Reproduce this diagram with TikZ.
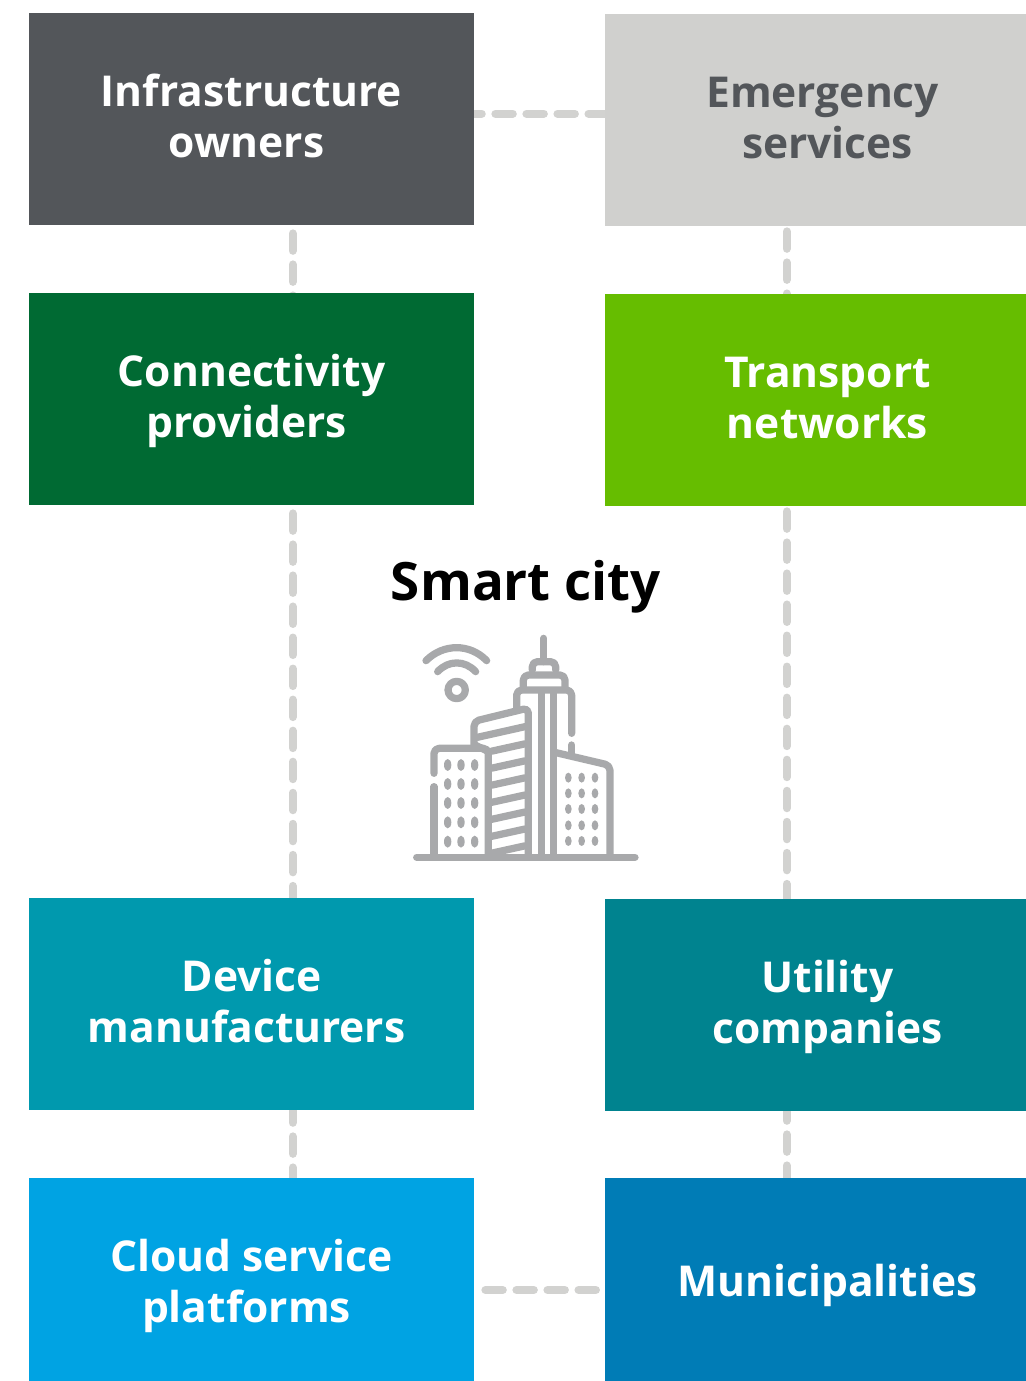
\documentclass[tikz,border=0pt]{standalone}
\usepackage{fontspec}
\setmainfont{Open Sans}
\usetikzlibrary{backgrounds}
\definecolor{infragray}{HTML}{53565A}
\definecolor{emergencygray}{HTML}{D0D0CE}
\definecolor{connectgreen}{HTML}{006A33}
\definecolor{transportgreen}{HTML}{66BD00}
\definecolor{deviceteal}{HTML}{0099AE}
\definecolor{utilityteal}{HTML}{00838F}
\definecolor{cloudblue}{HTML}{00A3E3}
\definecolor{municipalblue}{HTML}{007CB6}
\definecolor{linkgray}{HTML}{D2D2D0}
\definecolor{icongray}{HTML}{A8A9AB}
\newcommand{\trailgap}{\hspace*{5.6pt}}
\newcommand{\toprow}{\rule{0pt}{23pt}}
\tikzset{
citybox/.style={minimum width=8.9cm,minimum height=4.24cm,inner sep=0pt,align=center,text=white,
  font=\fontsize{24.2}{29}\selectfont\bfseries,execute at end node=\strut},
citylink/.style={draw=linkgray,line width=.165cm,line cap=round,dash pattern=on .345cm off .276cm,dash phase=#1cm},
iconline/.style={draw=icongray,line width=.145cm,line cap=round,line join=round,rounded corners=.1cm},
}
\begin{document}
\begin{tikzpicture}[x=.02cm,y=-.02cm]
\useasboundingbox (0,0) rectangle (1026,1381);
\clip (0,0) rectangle (1026,1381);

\node[citybox,fill=infragray] (infra) at (251.5,119) {\toprow Infrastructure\\owners\trailgap};
\node[citybox,fill=emergencygray,text=infragray] (emergency) at (827.5,120) {\toprow Emergency\trailgap\\services};
\node[citybox,fill=connectgreen] (connect) at (251.5,399) {\toprow Connectivity\\providers\trailgap};
\node[citybox,fill=transportgreen] (transport) at (827.5,400) {\toprow Transport\\networks};
\node[citybox,fill=deviceteal] (device) at (251.5,1004) {\toprow Device\\manufacturers\trailgap};
\node[citybox,fill=utilityteal] (utility) at (827.5,1005) {\toprow Utility\\companies};
\node[citybox,fill=cloudblue] (cloud) at (251.5,1284) {\toprow Cloud service\\platforms\trailgap};
\node[citybox,fill=municipalblue] (municipal) at (827.5,1284) {\toprow Municipalities};
\node[font=\fontsize{30.1}{36}\selectfont\bfseries] (smart) at (526,587) {Smart city};

\coordinate (leftline) at (292.7,0);
\coordinate (rightline) at (786.7,0);
\coordinate (topline) at (0,113.7);
\coordinate (bottomline) at (0,1290);

\begin{scope}[on background layer]
\draw[citylink=.458] (infra.south -| leftline) -- (connect.center -| leftline);
\draw[citylink=.458] (connect.south -| leftline) -- (device.center -| leftline);
\draw[citylink=.098] (device.south -| leftline) -- (cloud.center -| leftline);
\draw[citylink=.518] (emergency.south -| rightline) -- (transport.center -| rightline);
\draw[citylink=.518] (transport.south -| rightline) -- (utility.center -| rightline);
\draw[citylink=.158] (utility.south -| rightline) -- (municipal.center -| rightline);
\draw[citylink=.198] (infra.east |- topline) -- (emergency.center |- topline);
\draw[citylink=.398] (cloud.east |- bottomline) -- (municipal.center |- bottomline);
\end{scope}

\begin{scope}[shift={(400,620)},x=.00667cm,y=-.00667cm]
\draw[iconline] (50,712) -- (705,712);
\draw[iconline] (78,122) .. controls (130,70) and (210,70) .. (260,122);
\draw[iconline] (113,155) .. controls (145,120) and (195,120) .. (227,155);
\draw[iconline] (170,210) circle (26);
\draw[iconline] (431,55) -- (431,125);
\draw[iconline] (397,150) -- (397,125) -- (467,125) -- (467,150);
\draw[iconline] (370,205) -- (370,165) -- (495,165) -- (495,205);
\draw[iconline] (350,265) -- (350,210) -- (515,210) -- (515,340);
\draw[iconline] (515,375) -- (515,405);
\draw[iconline] (222,375) -- (222,304) -- (385,264) -- (385,712);
\draw[iconline] (425,215) -- (425,712);
\draw[iconline] (460,215) -- (460,712);
\draw[iconline] (468,398) -- (630,436) -- (630,712);
\draw[iconline] (102,460) -- (102,385) -- (265,385) -- (265,712);
\draw[iconline] (102,500) -- (102,712);
\draw[iconline] (225,375) -- (262,393);
\draw[iconline] (232,352) -- (375,320);
\foreach \y in {371.5,422.5,473.5,525,576,627,677.5}
  \draw[iconline] (275,\y+22) -- (375,\y);
\foreach \x in {143,183,224}
  \foreach \y in {435,492,549,607,665}
    \fill[icongray] (\x,\y) ellipse (11 and 18);
\foreach \x in {505,545,585}
  \foreach \y in {473,520,567,616,663}
    \fill[icongray] (\x,\y) ellipse (10 and 15);
\end{scope}
\end{tikzpicture}
\end{document}
